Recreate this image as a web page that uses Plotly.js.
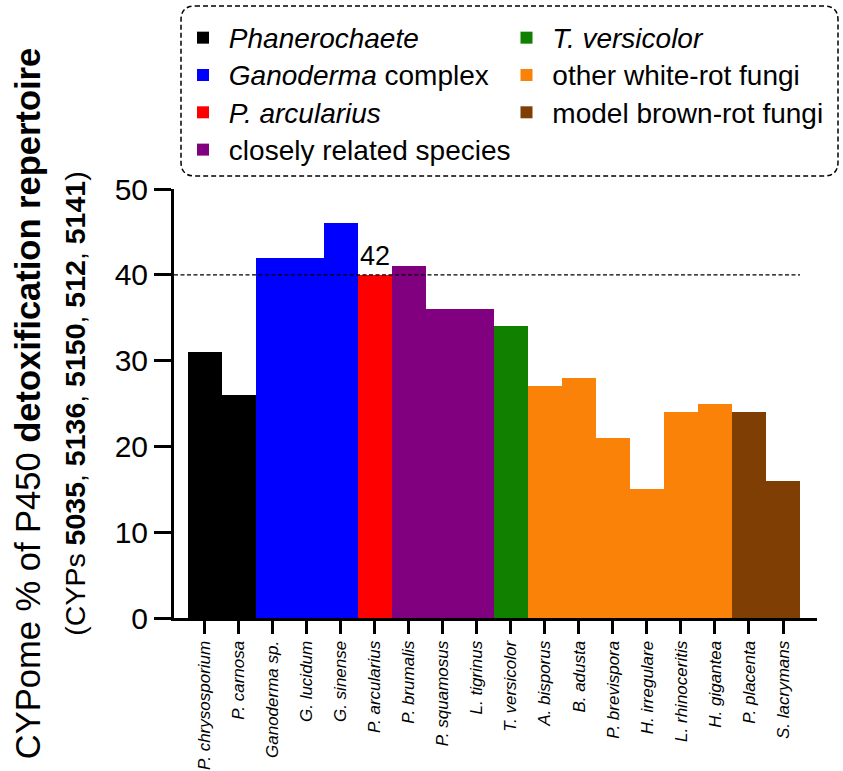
<!DOCTYPE html>
<html>
<head>
<meta charset="utf-8">
<script src="https://cdn.plot.ly/plotly-3.0.1.min.js"></script>
<style>html,body{margin:0;padding:0;background:#fff;}</style>
</head>
<body>
<div id="chart" style="width:843px;height:771px;"></div>
<script>
// ---- data ----
const species = ["P. chrysosporium","P. carnosa","Ganoderma sp.","G. lucidum","G. sinense","P. arcularius","P. brumalis","P. squamosus","L. tigrinus","T. versicolor","A. bisporus","B. adusta","P. brevispora","H. irregulare","L. rhinoceritis","H. gigantea","P. placenta","S. lacrymans"];
const values = [31,26,42,42,46,40,41,36,36,34,27,28,21,15,24,25,24,16];
const groupOf = ["phan","phan","gano","gano","gano","parc","close","close","close","tver","white","white","white","white","white","white","brown","brown"];
const groupKeys = ["phan","tver","gano","white","parc","brown","close"];
const groupNames = {
  phan: "<i>Phanerochaete</i>",
  tver: "<i>T. versicolor</i>",
  gano: "<i>Ganoderma</i> complex",
  white: "other white-rot fungi",
  parc: "<i>P. arcularius</i>",
  brown: "model brown-rot fungi",
  close: "closely related species"
};
const groupColors = {
  phan: "#000000", gano: "#0000FF", parc: "#FF0000", close: "#800080",
  tver: "#117F00", white: "#FB8209", brown: "#7F3F04"
};
const thresholdValue = 40;
const labelSpecies = "P. arcularius";
const labelText = "42";
const yTicks = [0,10,20,30,40,50];

// ---- build traces ----
const traces = groupKeys.map(k => {
  const xs = [], ys = [];
  species.forEach((s, i) => { if (groupOf[i] === k) { xs.push(s); ys.push(values[i]); } });
  return {
    type: "bar",
    name: '<span style="font-size:21px">&nbsp;</span><span style="font-size:28px">' + groupNames[k] + '</span>',
    x: xs, y: ys,
    marker: {color: groupColors[k], line: {width: 0}},
    width: 1, hoverinfo: "x+y"
  };
});

// pixel -> paper helpers for decoration
const W = 843, H = 771;
const M = {l: 174, r: 26, t: 189, b: 153};
const pw = W - M.l - M.r, ph = H - M.t - M.b;
const px = x => (x - M.l) / pw;
const py = y => (H - M.b - y) / ph;
function roundRect(l, t, r, b, rad) {
  const L = px(l), R = px(r), T = py(t), B = py(b);
  const rx = rad / pw, ry = rad / ph;
  return `M${L+rx},${T} L${R-rx},${T} Q${R},${T} ${R},${T-ry} L${R},${B+ry} Q${R},${B} ${R-rx},${B} L${L+rx},${B} Q${L},${B} ${L},${B+ry} L${L},${T-ry} Q${L},${T} ${L+rx},${T} Z`;
}

const FONT = "Liberation Sans, Arial, Helvetica, sans-serif";
const xRange = [-0.91, 18];

const layout = {
  width: W, height: H,
  margin: M,
  paper_bgcolor: "#fff", plot_bgcolor: "rgba(0,0,0,0)",
  font: {family: FONT, color: "#000"},
  barmode: "overlay", bargap: 0,
  showlegend: true,
  legend: {
    orientation: "h", xref: "container", yref: "container",
    x: 183 / W, y: 1 - 14 / H, xanchor: "left", yanchor: "top",
    entrywidth: 278.5, entrywidthmode: "pixels",
    font: {size: 26.4, family: FONT, color: "#000"},
    bgcolor: "rgba(0,0,0,0)", borderwidth: 0, traceorder: "normal"
  },
  xaxis: {
    type: "category", categoryorder: "array", categoryarray: species,
    range: xRange, showgrid: false, zeroline: false,
    showline: true, linecolor: "#000", linewidth: 3,
    ticks: "outside", ticklen: 13, tickwidth: 3, tickcolor: "#000",
    tickangle: -90, tickfont: {size: 17, style: "italic", family: FONT, color: "#000"},
    fixedrange: true
  },
  yaxis: {
    range: [0, 50], tickvals: yTicks, showgrid: false, zeroline: false,
    showline: true, linecolor: "#000", linewidth: 3,
    ticks: "outside", ticklen: 17, tickwidth: 3, tickcolor: "#000",
    tickfont: {size: 30, family: FONT, color: "#000"},
    title: {
      text: 'CYPome % of P450 <b>detoxification repertoire</b><br><span style="font-size:28.5px">(CYPs <b>5035</b>, <b>5136</b>, <b>5150</b>, <b>512</b>, <b>5141</b>)</span>',
      font: {size: 34.5, family: FONT, color: "#000"},
      standoff: 19
    },
    fixedrange: true
  },
  shapes: [
    {type: "line", xref: "x", yref: "y", x0: xRange[0], x1: 17.5, y0: thresholdValue, y1: thresholdValue,
     line: {color: "#000", width: 1.3, dash: "4px,2.5px"}, layer: "above"},
    {type: "path", xref: "paper", yref: "paper", path: roundRect(181, 6, 838, 176, 14),
     line: {color: "#000", width: 1.5, dash: "5px,3px"}, fillcolor: "rgba(0,0,0,0)", layer: "above"}
  ],
  annotations: [
    {x: labelSpecies, y: thresholdValue, xref: "x", yref: "y", text: labelText, showarrow: false,
     yanchor: "bottom", yshift: 2, font: {size: 27, family: FONT, color: "#000"}}
  ]
};

Plotly.newPlot("chart", traces, layout, {displayModeBar: false, staticPlot: true});
</script>
</body>
</html>
